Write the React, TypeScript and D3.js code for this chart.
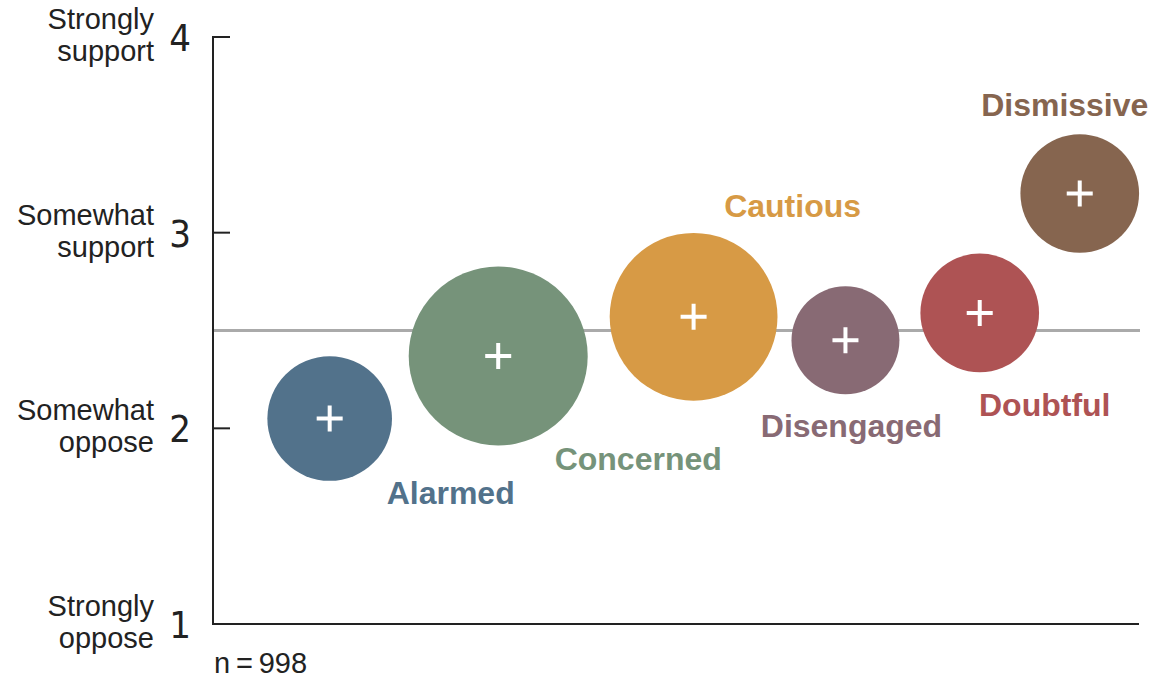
import * as d3 from "d3";

// Six segments, mean position on a 1–4 support scale
const segments = ["Alarmed", "Concerned", "Cautious", "Disengaged", "Doubtful", "Dismissive"];
const meanSupport = [2.05, 2.37, 2.57, 2.45, 2.59, 3.2];
const segmentSize = [16, 33, 29, 12, 14.5, 14.5];
const xSlot = [12.6, 30.8, 51.9, 68.3, 82.8, 93.6];
const segmentColors = ["#52728b", "#76937a", "#d79a45", "#886a74", "#ae5354", "#86654f"];

const yTicks = [1, 2, 3, 4];
const yTickLabels = [
  ["Strongly", "oppose"],
  ["Somewhat", "oppose"],
  ["Somewhat", "support"],
  ["Strongly", "support"],
];
const midpoint = 2.5;
const sampleNote = "n\u2009=\u2009998";

// label placement relative to bubble centre
const labelOffset: Record<string, [number, number]> = {
  Alarmed: [121, 85],
  Concerned: [140, 114],
  Cautious: [99, -100],
  Disengaged: [6, 97],
  Doubtful: [65, 103],
  Dismissive: [-15, -78],
};

const W = 1153;
const H = 681;
const margin = { top: 37, right: 14, bottom: 57, left: 213 };

const sans = "'Liberation Sans', Arial, Helvetica, sans-serif";
const narrow = "'Liberation Sans Narrow', 'DejaVu Sans Condensed', sans-serif";

export default function App() {
  const x = d3.scaleLinear().domain([0, 100]).range([margin.left, W - margin.right]);
  const y = d3.scaleLinear().domain([1, 4]).range([H - margin.bottom, margin.top]);
  const r = d3.scaleSqrt().domain([0, d3.max(segmentSize) as number]).range([0, 89.5]);

  const axisColor = "#222";
  const x0 = margin.left;
  const x1 = W - margin.right;

  return (
    <svg
      width={W}
      height={H}
      style={{ position: "absolute", left: 0, top: 0, background: "#fff" }}
    >
      {/* midpoint reference */}
      <line x1={x0} x2={x1 + 1} y1={y(midpoint)} y2={y(midpoint)} stroke="#aaa" strokeWidth={3} />

      {/* axes */}
      <line x1={x0} x2={x0} y1={y(4) - 1} y2={y(1) + 1} stroke={axisColor} strokeWidth={2} />
      <line x1={x0 - 1} x2={x1} y1={y(1)} y2={y(1)} stroke={axisColor} strokeWidth={2} />
      {yTicks.map((t, i) => (
        <g key={t}>
          {t > 1 && <line x1={x0} x2={x0 + 17} y1={y(t)} y2={y(t)} stroke={axisColor} strokeWidth={2} />}
          <text
            x={191}
            y={y(t) + 14}
            textAnchor="end"
            fontFamily={narrow}
            fontSize={38}
            fill={axisColor}
          >
            {t}
          </text>
          <text textAnchor="end" fontFamily={sans} fontSize={29} fill={axisColor}>
            <tspan x={154} y={y(t) - 8}>{yTickLabels[i][0]}</tspan>
            <tspan x={154} y={y(t) + 24}>{yTickLabels[i][1]}</tspan>
          </text>
        </g>
      ))}

      {/* bubbles */}
      {segments.map((s, i) => {
        const cx = x(xSlot[i]);
        const cy = y(meanSupport[i]);
        const [dx, dy] = labelOffset[s];
        return (
          <g key={s}>
            <circle cx={cx} cy={cy} r={r(segmentSize[i])} fill={segmentColors[i]} />
            <path
              d={`M${cx - 13},${cy}H${cx + 13}M${cx},${cy - 13}V${cy + 13}`}
              stroke="#fff"
              strokeWidth={4}
            />
            <text
              x={cx + dx}
              y={cy + dy}
              textAnchor="middle"
              fontFamily={sans}
              fontWeight="bold"
              fontSize={32}
              fill={segmentColors[i]}
            >
              {s}
            </text>
          </g>
        );
      })}

      <text x={214} y={673} fontFamily={sans} fontSize={29} fill={axisColor}>
        {sampleNote}
      </text>
    </svg>
  );
}
